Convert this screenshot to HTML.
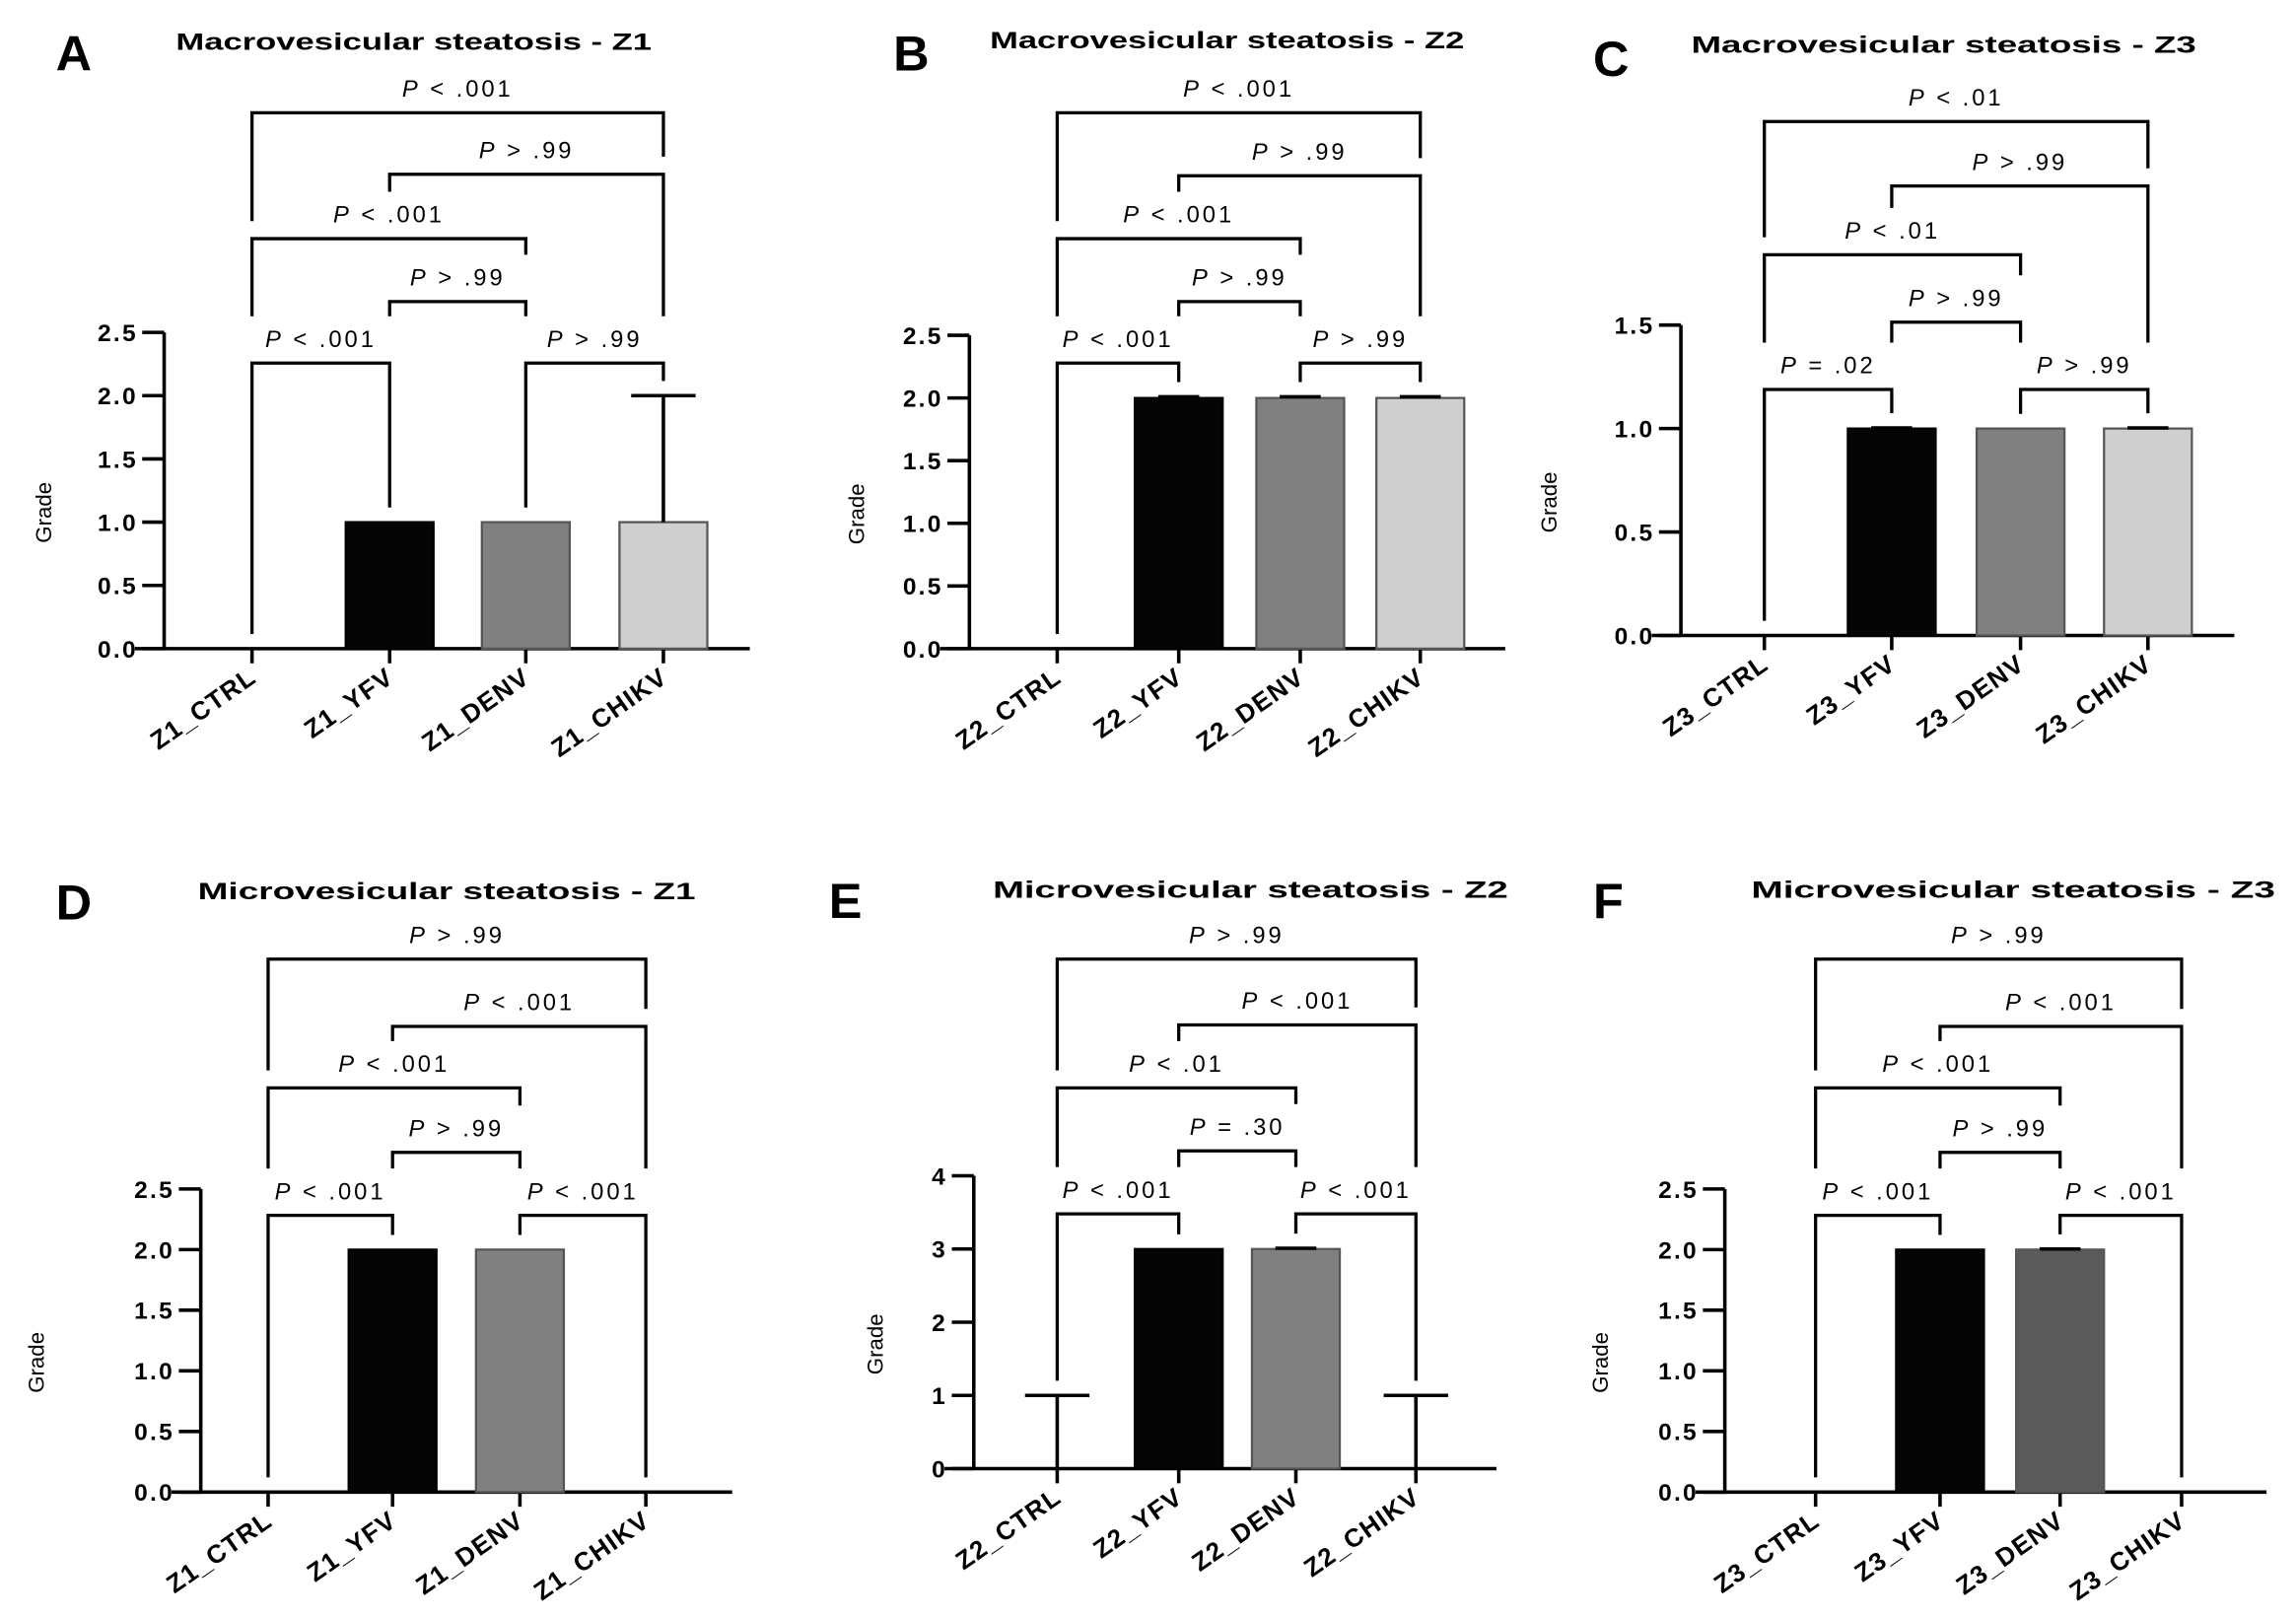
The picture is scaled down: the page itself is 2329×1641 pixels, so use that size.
<!DOCTYPE html>
<html><head><meta charset="utf-8"><style>
html,body{margin:0;padding:0;background:#fff;}
svg{display:block;font-family:"Liberation Sans",Arial,sans-serif;}
</style></head><body>
<svg id="fig" width="2329" height="1641" viewBox="0 0 1568 1105" xmlns="http://www.w3.org/2000/svg"></svg>
<script>
// ---- data ----
const panelLetters = ["A","B","C","D","E","F"];
const panelTitles = ["Macrovesicular steatosis - Z1","Macrovesicular steatosis - Z2","Macrovesicular steatosis - Z3","Microvesicular steatosis - Z1","Microvesicular steatosis - Z2","Microvesicular steatosis - Z3"];
const groups = ["CTRL","YFV","DENV","CHIKV"];
const zones = ["Z1","Z2","Z3","Z1","Z2","Z3"];
const valuesA = [0,1,1,1];      const errA = [0,0,0,1];
const valuesB = [0,2,2,2];      const errB = [0,0.01,0.01,0.01];
const valuesC = [0,1,1,1];      const errC = [0,0.003,0,0.003];
const valuesD = [0,2,2,0];      const errD = [0,0,0,0];
const valuesE = [0,3,3,0];      const errE = [1,0,0.01,1];
const valuesF = [0,2,2,0];      const errF = [0,0,0.005,0];
const yMaxes = [2.5,2.5,1.5,2.5,4,2.5];
const yStepList = [0.5,0.5,0.5,0.5,1,0.5];
const pA = ["P < .001","P > .99","P > .99","P < .001","P > .99","P < .001"];
const pB = ["P < .001","P > .99","P > .99","P < .001","P > .99","P < .001"];
const pC = ["P = .02","P > .99","P > .99","P < .01","P > .99","P < .01"];
const pD = ["P < .001","P > .99","P < .001","P < .001","P < .001","P > .99"];
const pE = ["P < .001","P = .30","P < .001","P < .01","P < .001","P > .99"];
const pF = ["P < .001","P > .99","P < .001","P < .001","P < .001","P > .99"];
// comparison pairs (order matches p arrays): CTRL-YFV, YFV-DENV, DENV-CHIKV, CTRL-DENV, YFV-CHIKV, CTRL-CHIKV
const pairs = [[0,1],[1,2],[2,3],[0,2],[1,3],[0,3]];
const colorsMacro = ["#000","#050505","#808080","#cfcfcf"];
const colorsF = ["#000","#050505","#5a5a5a","#cfcfcf"];

// ---- layout (not data) ----
const layout = [
 {ax:112,y0:443,yT:227,cx:[172,266,359,453],xEnd:512,bl:[248,206,248,163,119,77],tx:120,tw:325,ty:34,lx:38,ly:48,gx:30},
 {ax:662,y0:443,yT:229,cx:[722,805,888,970],xEnd:1028,bl:[248,206,248,163,120,77],tx:676,tw:324,ty:33,lx:610,ly:48,gx:585},
 {ax:1148,y0:434,yT:222,cx:[1205,1292,1380,1467],xEnd:1526,bl:[266,220,266,174,127,83],tx:1155,tw:345,ty:36,lx:1088,ly:52,gx:1058},
 {ax:137,y0:1019,yT:812,cx:[183,268,355,441],xEnd:500,bl:[830,787,830,743,701,655],tx:135,tw:340,ty:614,lx:38,ly:628,gx:25},
 {ax:665,y0:1003,yT:803,cx:[722,805,885,967],xEnd:1022,bl:[829,786,829,743,700,655],tx:678,tw:352,ty:613,lx:566,ly:627,gx:598},
 {ax:1178,y0:1019,yT:812,cx:[1240,1325,1407,1490],xEnd:1548,bl:[830,787,830,743,701,655],tx:1196,tw:358,ty:613,lx:1088,ly:627,gx:1093}
];
const allVals=[valuesA,valuesB,valuesC,valuesD,valuesE,valuesF];
const allErr=[errA,errB,errC,errD,errE,errF];
const allP=[pA,pB,pC,pD,pE,pF];
const allCols=[colorsMacro,colorsMacro,colorsMacro,colorsMacro,colorsMacro,colorsF];

const svg=document.getElementById('fig');
const NS="http://www.w3.org/2000/svg";
function mk(tag,attrs,parent){const e=document.createElementNS(NS,tag);for(const k in attrs)e.setAttribute(k,attrs[k]);(parent||svg).appendChild(e);return e;}
const LABEL_HALF=52;

for(let p=0;p<6;p++){
  const L=layout[p], vals=allVals[p], errs=allErr[p], ps=allP[p], cols=allCols[p];
  const yMax=yMaxes[p], step=yStepList[p];
  const yScale=v=>L.y0-(v/yMax)*(L.y0-L.yT);
  const g=mk('g',{});
  
  
  const let_=mk('text',{x:L.lx,y:L.ly,'font-size':34,'font-weight':'bold'},g); let_.textContent=panelLetters[p];
   
  const t=mk('text',{x:L.tx,y:L.ty,'font-size':16.5,'font-weight':'bold',textLength:L.tw,lengthAdjust:'spacingAndGlyphs'},g); t.textContent=panelTitles[p];
   
  const gy=(L.y0+L.yT)/2+15;
  const yl=mk('text',{x:L.gx,y:gy+5,'font-size':15,'text-anchor':'middle',transform:`rotate(-90 ${L.gx} ${gy})`},g); yl.textContent='Grade';
   
  const ya=mk('line',{x1:L.ax,y1:L.yT,x2:L.ax,y2:L.y0,stroke:'#000','stroke-width':2.4},g);
   
  const xa=mk('line',{x1:L.ax-20,y1:L.y0,x2:L.xEnd,y2:L.y0,stroke:'#000','stroke-width':2.4},g);
   
  for(let v=0;v<=yMax+1e-9;v+=step){
    const y=yScale(v);
    mk('line',{x1:L.ax-15,y1:y,x2:L.ax,y2:y,stroke:'#000','stroke-width':2.4},g);
    const tl=mk('text',{x:L.ax-18,y:y+6,'font-size':16.5,'font-weight':'bold','text-anchor':'end','letter-spacing':1.5},g);
    tl.textContent= step<1? v.toFixed(1): String(Math.round(v));
     
  }
  const tops=[];
  for(let i=0;i<4;i++){
    const x=L.cx[i];
    mk('line',{x1:x,y1:L.y0,x2:x,y2:L.y0+10,stroke:'#000','stroke-width':2.4},g);
    if(vals[i]>0){
      const b=mk('rect',{x:x-30,y:yScale(vals[i]),width:60,height:L.y0-yScale(vals[i]),fill:cols[i],stroke:i==0||i==1?'#000':'#555','stroke-width':1.5},g);
       
    }
    let top=yScale(vals[i]);
    if(errs[i]>0){
      const ey=yScale(vals[i]+errs[i]);
      mk('line',{x1:x,y1:yScale(vals[i]),x2:x,y2:ey,stroke:'#000','stroke-width':2.4},g);
      const cw=errs[i]>0.2?22:14;
      const c=mk('line',{x1:x-cw,y1:ey,x2:x+cw,y2:ey,stroke:'#000','stroke-width':2.4},g);
       
      top=ey;
    }
    tops.push(top);
    const lbl=zones[p]+'_'+groups[i];
    const lx=x+4, ly=L.y0+22;
    const xl=mk('text',{x:lx,y:ly,'font-size':17.5,'font-weight':'bold','text-anchor':'end','letter-spacing':0.9,transform:`rotate(-35 ${lx} ${ly})`},g);
    xl.textContent=lbl;  
  }
  const order=[0,1,2,3,4,5].sort((a,b)=>L.bl[b]-L.bl[a]);
  const drawn=[];
  function legEnd(x,y){
    let end=null;
    for(const d of drawn){
      if(d.y<=y) continue;
      let c=null;
      if(x>=d.lc-LABEL_HALF && x<=d.lc+LABEL_HALF) c=d.y-32;
      else if(x>=d.xa-1 && x<=d.xb+1) c=d.y-12;
      if(c!==null && (end===null || c<end)) end=c;
    }
    return end;
  }
  for(const k of order){
    const [a,b]=pairs[k]; const y=L.bl[k];
    const xa_=L.cx[a], xb_=L.cx[b];
    let ea=legEnd(xa_,y); if(ea===null) ea=tops[a]-10;
    let eb=legEnd(xb_,y); if(eb===null) eb=tops[b]-10;
    ea=Math.max(ea,y+8); eb=Math.max(eb,y+8);
    const br=mk('path',{d:`M${xa_} ${ea} V${y} H${xb_} V${eb}`,fill:'none',stroke:'#000','stroke-width':2.2},g);
     
    const lc=(xa_+xb_)/2;
    drawn.push({xa:xa_,xb:xb_,y:y,lc:lc});
    const pt=mk('text',{x:lc,y:y-11,'font-size':16,'text-anchor':'middle','letter-spacing':2},g);
    const parts=ps[k].split(' ');
    const ti=document.createElementNS(NS,'tspan'); ti.setAttribute('font-style','italic'); ti.textContent='P'; pt.appendChild(ti);
    pt.appendChild(document.createTextNode(' '+parts.slice(1).join(' ')));
     
  }
}
</script>
</body></html>
